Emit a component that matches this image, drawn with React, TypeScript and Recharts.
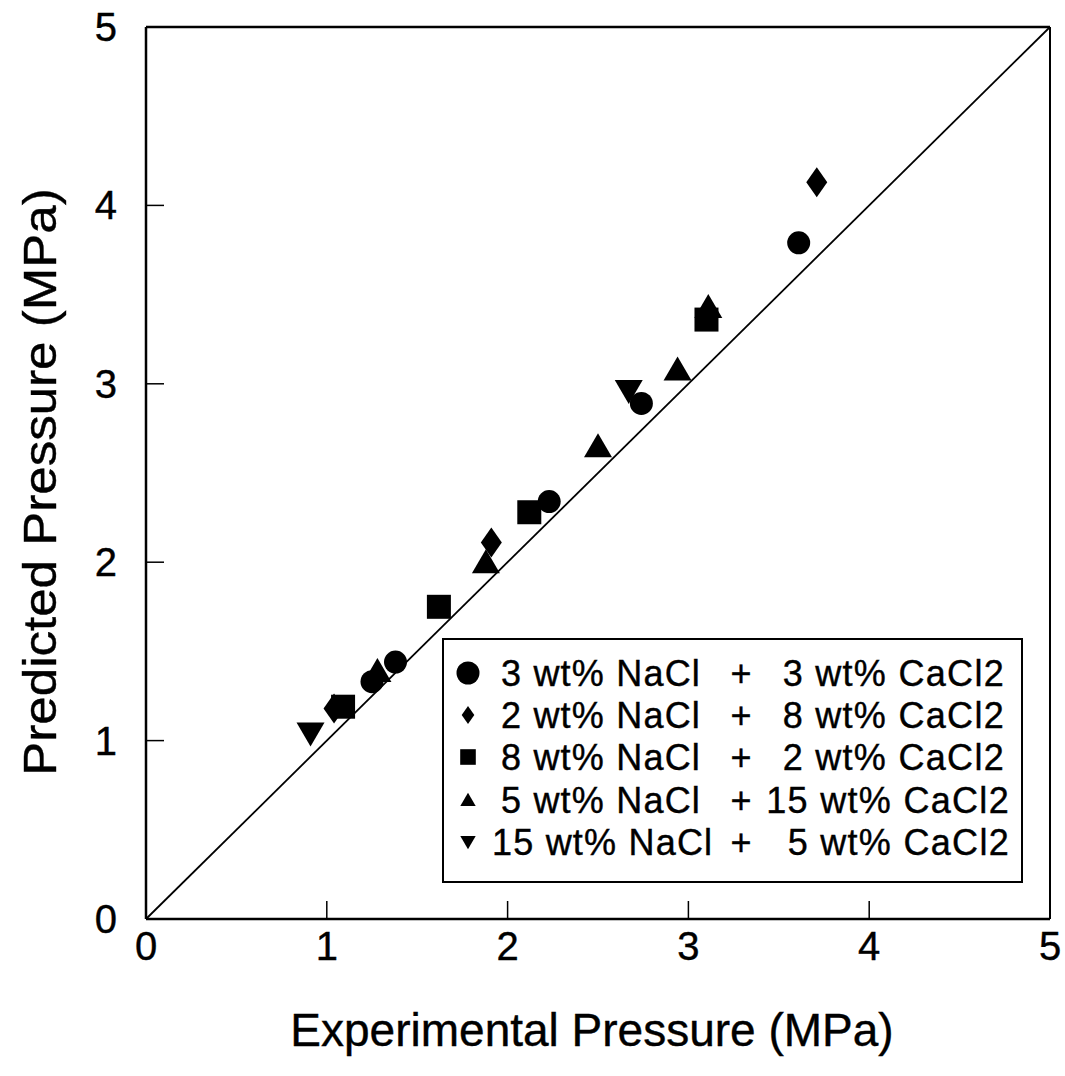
import React from 'react';
import { ScatterChart, Scatter, XAxis, YAxis, ReferenceLine } from 'recharts';

const seriesNames = [
  '3 wt% NaCl + 3 wt% CaCl2',
  '2 wt% NaCl + 8 wt% CaCl2',
  '8 wt% NaCl + 2 wt% CaCl2',
  '5 wt% NaCl + 15 wt% CaCl2',
  '15 wt% NaCl + 5 wt% CaCl2',
];
const legendLeft = ['3 wt% NaCl', '2 wt% NaCl', '8 wt% NaCl', '5 wt% NaCl', '15 wt% NaCl'];
const legendRight = ['3 wt% CaCl2', '8 wt% CaCl2', '2 wt% CaCl2', '15 wt% CaCl2', '5 wt% CaCl2'];

const circleData = [
  { x: 1.25, y: 1.33 }, { x: 1.38, y: 1.44 }, { x: 2.23, y: 2.34 }, { x: 2.74, y: 2.89 }, { x: 3.61, y: 3.79 },
];
const diamondData = [
  { x: 1.04, y: 1.18 }, { x: 1.91, y: 2.11 }, { x: 3.71, y: 4.13 },
];
const squareData = [
  { x: 1.09, y: 1.19 }, { x: 1.62, y: 1.75 }, { x: 2.12, y: 2.28 }, { x: 3.10, y: 3.36 },
];
const triangleData = [
  { x: 1.28, y: 1.39 }, { x: 1.88, y: 2.0 }, { x: 2.50, y: 2.65 }, { x: 2.94, y: 3.08 }, { x: 3.11, y: 3.43 },
];
const invTriangleData = [
  { x: 0.91, y: 1.04 }, { x: 2.67, y: 2.96 },
];

const ticks = [0, 1, 2, 3, 4, 5];
const FONT = '"Liberation Sans", Arial, Helvetica, sans-serif';

const shapePath = (kind: string, cx: number, cy: number, s: number) => {
  switch (kind) {
    case 'circle':
      return <circle cx={cx} cy={cy} r={11.5 * s} fill="#000" />;
    case 'diamond':
      return <path d={`M${cx},${cy - 15 * s} L${cx + 10.5 * s},${cy} L${cx},${cy + 15 * s} L${cx - 10.5 * s},${cy} Z`} fill="#000" />;
    case 'square':
      return <rect x={cx - 12 * s} y={cy - 12 * s} width={24 * s} height={24 * s} fill="#000" />;
    case 'triangle':
      return <path d={`M${cx},${cy - 13 * s} L${cx + 14 * s},${cy + 11 * s} L${cx - 14 * s},${cy + 11 * s} Z`} fill="#000" />;
    case 'invtriangle':
      return <path d={`M${cx - 14 * s},${cy - 11 * s} L${cx + 14 * s},${cy - 11 * s} L${cx},${cy + 13 * s} Z`} fill="#000" />;
    default:
      return null;
  }
};

const makeShape = (kind: string) => (props: any) => {
  const { cx, cy } = props;
  if (cx == null || cy == null) return <g />;
  return <g>{shapePath(kind, cx, cy, 1)}</g>;
};

const XTick = (props: any) => {
  const { x, y, payload } = props;
  const v = payload.value;
  return (
    <g>
      {v !== 0 && v !== 5 && <line x1={x} y1={y} x2={x} y2={y - 18} stroke="#000" strokeWidth={1.5} />}
      <text x={x} y={y + 41} textAnchor="middle" fontSize={40} fontFamily={FONT} fill="#000" stroke="#000" strokeWidth={0.4}>{v}</text>
    </g>
  );
};

const YTick = (props: any) => {
  const { x, y, payload } = props;
  const v = payload.value;
  return (
    <g>
      {v !== 0 && v !== 5 && <line x1={x} y1={y} x2={x + 18} y2={y} stroke="#000" strokeWidth={1.5} />}
      <text x={x - 29} y={y + 14} textAnchor="end" fontSize={40} fontFamily={FONT} fill="#000" stroke="#000" strokeWidth={0.4}>{v}</text>
    </g>
  );
};

const kinds = ['circle', 'diamond', 'square', 'triangle', 'invtriangle'];
const legendSymbolScale = [1.0, 0.6, 0.65, 0.55, 0.55];
const legendRowY = [35, 77, 119, 162, 204];

export default function App() {
  const datasets = [circleData, diamondData, squareData, triangleData, invTriangleData];
  return (
    <div style={{ position: 'absolute', left: 0, top: 0, width: 1065, height: 1076, background: '#fff', fontFamily: FONT }}>
      <ScatterChart width={1065} height={1076} margin={{ top: 27, right: 15, bottom: 156, left: 145 }}>
        <XAxis
          type="number"
          dataKey="x"
          domain={[0, 5]}
          ticks={ticks}
          height={1}
          tickSize={0}
          tickMargin={0}
          tickLine={false}
          axisLine={{ stroke: '#000', strokeWidth: 2.5 }}
          tick={<XTick />}
          interval={0}
          allowDataOverflow
        />
        <YAxis
          type="number"
          dataKey="y"
          domain={[0, 5]}
          ticks={ticks}
          width={1}
          tickSize={0}
          tickMargin={0}
          tickLine={false}
          axisLine={{ stroke: '#000', strokeWidth: 2.5 }}
          tick={<YTick />}
          interval={0}
          allowDataOverflow
        />
        <ReferenceLine y={5} stroke="#000" strokeWidth={2.5} ifOverflow="visible" />
        <ReferenceLine x={5} stroke="#000" strokeWidth={2} ifOverflow="visible" />
        <ReferenceLine segment={[{ x: 0, y: 0 }, { x: 5, y: 5 }]} stroke="#000" strokeWidth={1.8} ifOverflow="visible" />
        {datasets.map((d, i) => (
          <Scatter key={i} name={seriesNames[i]} data={d} shape={makeShape(kinds[i])} isAnimationActive={false} />
        ))}
      </ScatterChart>

      <div style={{ position: 'absolute', left: 592, top: 1030, transform: 'translate(-50%, -50%)', whiteSpace: 'nowrap', fontSize: 46, lineHeight: '46px', color: '#000', WebkitTextStroke: '0.4px #000' }}>
        Experimental Pressure (MPa)
      </div>
      <div style={{ position: 'absolute', left: 40, top: 482, transform: 'translate(-50%, -50%) rotate(-90deg) scaleX(1.11)', whiteSpace: 'nowrap', fontSize: 46, lineHeight: '46px', color: '#000', WebkitTextStroke: '0.4px #000' }}>
        Predicted Pressure (MPa)
      </div>

      <div style={{ position: 'absolute', left: 442, top: 638, width: 581, height: 245, border: '2.5px solid #000', boxSizing: 'border-box', background: '#fff' }}>
        <svg width={581} height={245} style={{ position: 'absolute', left: -2.5, top: -2.5 }}>
          {kinds.map((k, i) => (
            <g key={k}>{shapePath(k, 26, legendRowY[i], legendSymbolScale[i])}</g>
          ))}
          {legendLeft.map((t, i) => (
            <text key={'l' + i} x={i === 4 ? 50 : 59} y={legendRowY[i] + 13} fontSize={36} letterSpacing={1.2} fontFamily={FONT} fill="#000" stroke="#000" strokeWidth={0.4}>{t}</text>
          ))}
          {legendLeft.map((t, i) => (
            <text key={'p' + i} x={299} y={legendRowY[i] + 13} fontSize={36} fontFamily={FONT} fill="#000" stroke="#000" strokeWidth={0.4} textAnchor="middle">+</text>
          ))}
          {legendRight.map((t, i) => (
            <text key={'r' + i} x={i >= 3 ? 568 : 563} y={legendRowY[i] + 13} fontSize={36} letterSpacing={1.3} fontFamily={FONT} fill="#000" stroke="#000" strokeWidth={0.4} textAnchor="end">{t}</text>
          ))}
        </svg>
      </div>
    </div>
  );
}
